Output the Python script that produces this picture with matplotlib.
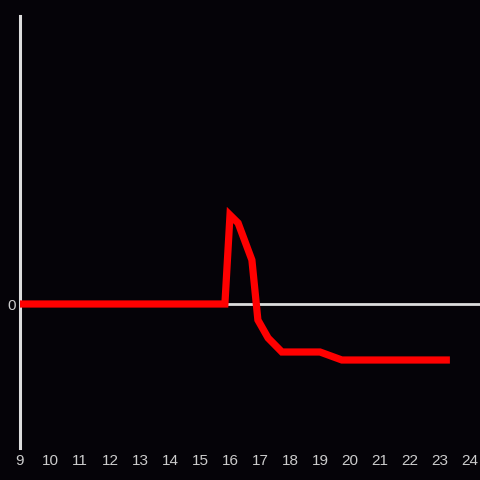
import matplotlib
matplotlib.use("Agg")
import matplotlib.pyplot as plt

hours = [9.0, 15.83, 16.0, 16.27, 16.73, 16.93, 17.27, 17.73, 19.0, 19.73, 23.33]
values = [0, 0, 89, 81, 44, -16, -34, -48, -48, -56, -56]
xticks = list(range(9, 25))
xticklabels = [str(t) for t in xticks]

plt.rcParams["font.family"] = ["Liberation Sans", "DejaVu Sans"]

bg = "#050308"
fig = plt.figure(figsize=(4.8, 4.8), dpi=100, facecolor=bg)
ax = fig.add_axes([20/480, 32/480, 460/480, 432/480], facecolor=bg)
ax.set_xlim(9, 9 + 460/30)
ax.set_ylim(-144, 288)

ax.axhline(0, color="#dddddd", lw=2.0, zorder=2)
ax.plot(hours, values, color="#ff0000", lw=5.2, solid_joinstyle="miter",
        solid_capstyle="butt", zorder=3)

for s in ["top", "right", "bottom"]:
    ax.spines[s].set_visible(False)
ax.spines["left"].set_color("#dddddd")
ax.spines["left"].set_linewidth(2.2)

ax.set_xticks(xticks)
ax.set_xticklabels(xticklabels)
ax.set_yticks([0])
ax.set_yticklabels(["0"])
ax.tick_params(axis="both", length=0, colors="#cccccc", labelsize=11)
ax.tick_params(axis="x", pad=4)
ax.tick_params(axis="y", pad=3)

fig.savefig("out.png", dpi=100, facecolor=bg)
